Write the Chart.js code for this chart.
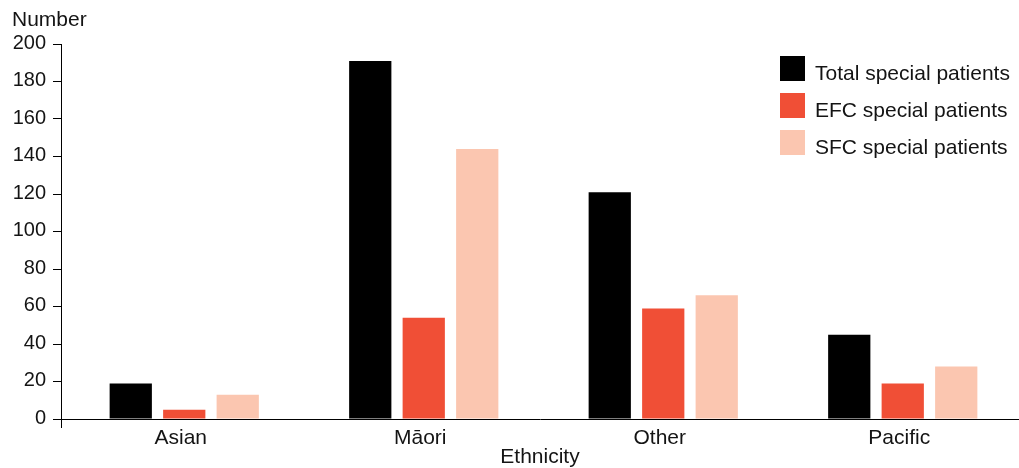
<!DOCTYPE html>
<html>
<head>
<meta charset="utf-8">
<script src="https://cdn.jsdelivr.net/npm/chart.js@4.4.1/dist/chart.umd.min.js"></script>
<style>
  html, body { margin: 0; padding: 0; background: #fff; }
  #wrap { width: 1019px; height: 468px; }
</style>
</head>
<body>
<div id="wrap"><canvas id="c" width="1019" height="468"></canvas></div>
<script>
const categories = ['Asian', 'Māori', 'Other', 'Pacific'];
const totalSpecial = [19, 191, 121, 45];
const efcSpecial = [5, 54, 59, 19];
const sfcSpecial = [13, 144, 66, 28];
const yTicks = [0, 20, 40, 60, 80, 100, 120, 140, 160, 180, 200];
const seriesLabels = ['Total special patients', 'EFC special patients', 'SFC special patients'];
const seriesColors = ['#000000', '#f04f36', '#fbc6b0'];
const yAxisTitle = 'Number';
const xAxisTitle = 'Ethnicity';

const FONT = "'Liberation Sans', Arial, Helvetica, sans-serif";
const TEXT = '#141414';

// bars are plotted on a hidden numeric copy of the category axis (index 0..n-1)
const toPoints = (arr) => arr.map((v, i) => ({ x: i, y: v }));
const barShift = 0.0146; // clusters sit slightly right of the category centres in the original

const extrasPlugin = {
  id: 'extras',
  afterDraw(chart) {
    const ctx = chart.ctx;
    ctx.save();
    ctx.fillStyle = TEXT;
    ctx.font = '21px ' + FONT;
    ctx.textAlign = 'left';
    ctx.textBaseline = 'alphabetic';
    ctx.fillText(yAxisTitle, 12, 26);
    const boxX = 780, boxSize = 25, textX = 815;
    const tops = [56, 93, 130];
    chart.data.datasets.forEach((ds, i) => {
      ctx.fillStyle = ds.backgroundColor;
      ctx.fillRect(boxX, tops[i], boxSize, boxSize);
      ctx.fillStyle = TEXT;
      ctx.fillText(ds.label, textX, tops[i] + 24);
    });
    ctx.restore();
  }
};

new Chart(document.getElementById('c'), {
  type: 'bar',
  data: {
    labels: categories,
    datasets: [
      { label: seriesLabels[0], data: toPoints(totalSpecial), backgroundColor: seriesColors[0], xAxisID: 'xb' },
      { label: seriesLabels[1], data: toPoints(efcSpecial), backgroundColor: seriesColors[1], xAxisID: 'xb' },
      { label: seriesLabels[2], data: toPoints(sfcSpecial), backgroundColor: seriesColors[2], xAxisID: 'xb' }
    ]
  },
  options: {
    responsive: false,
    animation: false,
    devicePixelRatio: 1,
    layout: { padding: { top: 44, right: 0, bottom: 0, left: 0 } },
    datasets: { bar: { categoryPercentage: 0.67, barPercentage: 0.79 } },
    plugins: {
      legend: { display: false },
      tooltip: { enabled: false },
      title: { display: false }
    },
    scales: {
      xb: {
        type: 'linear',
        display: false,
        offset: false,
        min: -0.5 - barShift,
        max: categories.length - 0.5 - barShift,
        afterBuildTicks(s) { s.ticks = categories.map((c, i) => ({ value: i })); }
      },
      x: {
        type: 'category',
        position: 'bottom',
        afterFit(s) { s.height = 49; },
        border: { display: true, color: '#000', width: 1 },
        grid: {
          offset: true,
          drawOnChartArea: false,
          drawTicks: true,
          tickLength: 9,
          color: (c) => c.index === 0 ? '#000' : 'rgba(0,0,0,0)'
        },
        ticks: {
          color: TEXT,
          font: { family: FONT, size: 21, lineHeight: 1 },
          padding: 0,
          maxRotation: 0
        },
        title: {
          display: true,
          text: xAxisTitle,
          color: TEXT,
          font: { family: FONT, size: 21 },
          padding: { top: 0, bottom: -2 }
        }
      },
      y: {
        min: 0,
        max: 200,
        afterFit(s) { s.width = 61; },
        afterBuildTicks(s) { s.ticks = yTicks.map(v => ({ value: v })); },
        border: { display: true, color: '#000', width: 1 },
        grid: {
          drawOnChartArea: false,
          drawTicks: true,
          tickLength: 8,
          color: '#000'
        },
        ticks: {
          color: TEXT,
          font: { family: FONT, size: 20 },
          padding: 7,
          labelOffset: -1
        }
      }
    }
  },
  plugins: [extrasPlugin]
});
</script>
</body>
</html>
